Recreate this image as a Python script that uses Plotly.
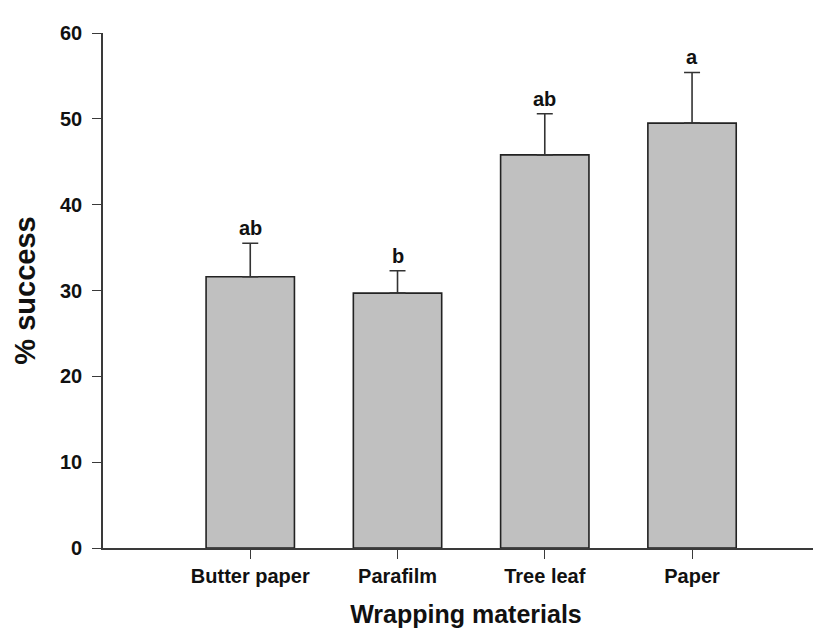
import plotly.graph_objects as go

categories = ["Butter paper", "Parafilm", "Tree leaf", "Paper"]
success = [31.6, 29.7, 45.8, 49.5]
errors = [3.9, 2.6, 4.8, 5.9]
letters = ["ab", "b", "ab", "a"]
y_ticks = [0, 10, 20, 30, 40, 50, 60]

FONT = "Liberation Sans, Arial, sans-serif"
AX = "#3a3a3a"

x_pos = list(range(len(categories)))

fig = go.Figure()
fig.add_trace(go.Bar(
    x=x_pos, y=success, width=0.6,
    marker=dict(color="#c0c0c0", line=dict(color="#222222", width=1.6)),
    error_y=dict(type="data", array=errors, arrayminus=[0]*len(errors), symmetric=False,
                 color="#333333", thickness=1.6, width=8),
    showlegend=False,
))

for xi, v, e, t in zip(x_pos, success, errors, letters):
    fig.add_annotation(x=xi, y=v + e, text="<b>%s</b>" % t, showarrow=False,
                       yanchor="bottom", yshift=2,
                       font=dict(family=FONT, size=20, color="#111111"))

fig.update_layout(
    width=821, height=628,
    margin=dict(l=95, r=0, t=25, b=88),
    plot_bgcolor="white", paper_bgcolor="white",
    bargap=0.4,
    xaxis=dict(
        range=[-1, 3.93], tickmode="array", tickvals=x_pos, ticktext=["<b>%s</b>" % c for c in categories],
        showline=True, linecolor=AX, linewidth=1.6, ticks="outside", ticklen=9, tickwidth=1.4, tickcolor=AX,
        tickfont=dict(family=FONT, size=20, color="#111111"), showgrid=False, zeroline=False,
        title=dict(text="<b>Wrapping materials</b>", font=dict(family=FONT, size=25, color="#111111"), standoff=20),
    ),
    yaxis=dict(
        range=[0, 60], tickmode="array", tickvals=y_ticks, ticktext=["<b>%d</b>" % t for t in y_ticks],
        showline=True, linecolor=AX, linewidth=1.6, ticks="outside", ticklen=9, tickwidth=1.4, tickcolor=AX,
        tickfont=dict(family=FONT, size=20, color="#111111"), showgrid=False, zeroline=False,
        ticklabelstandoff=6,
        title=dict(text="<b>% success</b>", font=dict(family=FONT, size=29, color="#111111"), standoff=16),
    ),
)

fig.write_html("out.html")
